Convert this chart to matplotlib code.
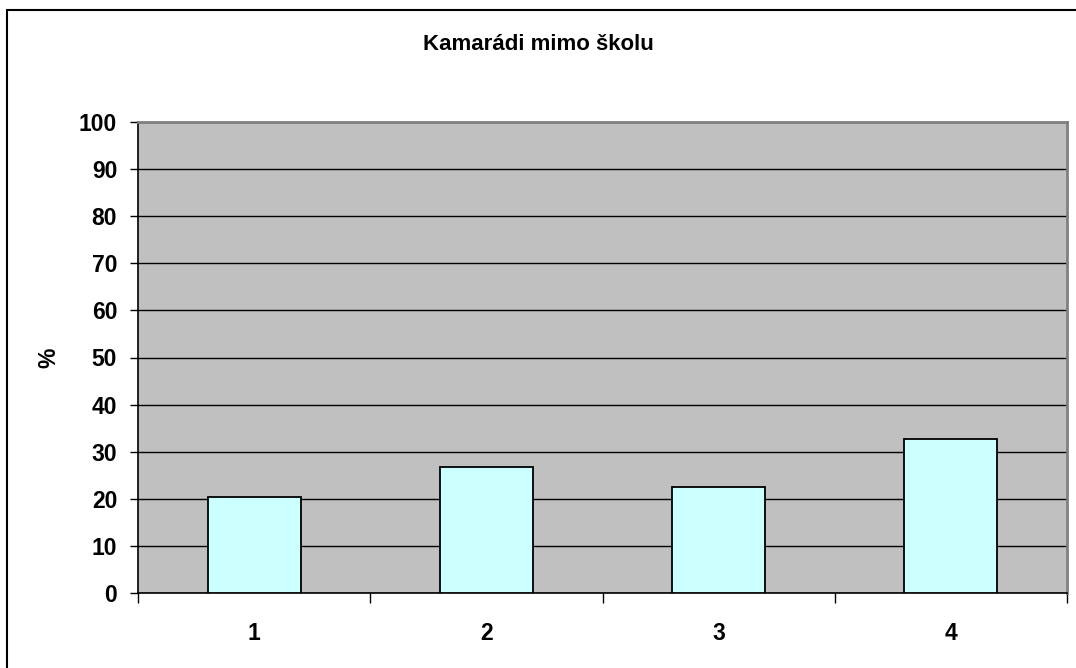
import numpy as np
import matplotlib
matplotlib.use("Agg")
import matplotlib.pyplot as plt
from matplotlib.patches import Rectangle

plt.rcParams['font.family'] = ['Liberation Sans', 'DejaVu Sans']

# data
categories = ['1', '2', '3', '4']
values = [20.4, 26.7, 22.5, 32.6]

fig = plt.figure(figsize=(10.76, 6.68), dpi=100)
ax = fig.add_axes([138/1076, 75/668, 929/1076, 471/668])

x = np.arange(len(categories))
ax.set_facecolor('#c0c0c0')
ax.set_axisbelow(True)
ax.yaxis.grid(True, color='black', linewidth=1.0)
ax.bar(x, values, width=0.4, color='#ccffff', edgecolor='black', linewidth=1.3, zorder=3)

ax.set_xlim(-0.5, len(categories) - 0.5)
ax.set_ylim(0, 100)
ax.set_yticks(range(0, 101, 10))
ax.set_yticklabels([str(v) for v in range(0, 101, 10)], fontsize=16.5, fontweight='bold')
# ticks at category borders, labels in the middle
ax.set_xticks(np.arange(-0.5, len(categories), 1.0))
ax.set_xticklabels([])
ax.set_xticks(x, minor=True)
ax.set_xticklabels(categories, minor=True, fontsize=16.5, fontweight='bold')
ax.tick_params(axis='x', which='major', direction='out', length=7, width=1, color='black')
ax.tick_params(axis='x', which='minor', length=0, pad=21)
ax.tick_params(axis='y', direction='out', length=6, width=1, pad=9)

for s in ['top', 'right']:
    ax.spines[s].set_color('#808080')
    ax.spines[s].set_linewidth(2)
for s in ['left', 'bottom']:
    ax.spines[s].set_color('black')
    ax.spines[s].set_linewidth(1.2)

ax.set_ylabel('%', fontsize=16.5, fontweight='bold')
ax.yaxis.set_label_coords((60 - 138) / 929, 0.5)
fig.text(0.5, 1 - 45/668, 'Kamarádi mimo školu', ha='center', va='center',
         fontsize=16, fontweight='bold')

# chart frame
fig.patches.append(Rectangle((7/1076, -0.05), 1.2, 1 - 10/668 + 0.05, transform=fig.transFigure,
                             fill=False, edgecolor='black', linewidth=1.5))

fig.savefig('out.png', dpi=100, facecolor='white')
